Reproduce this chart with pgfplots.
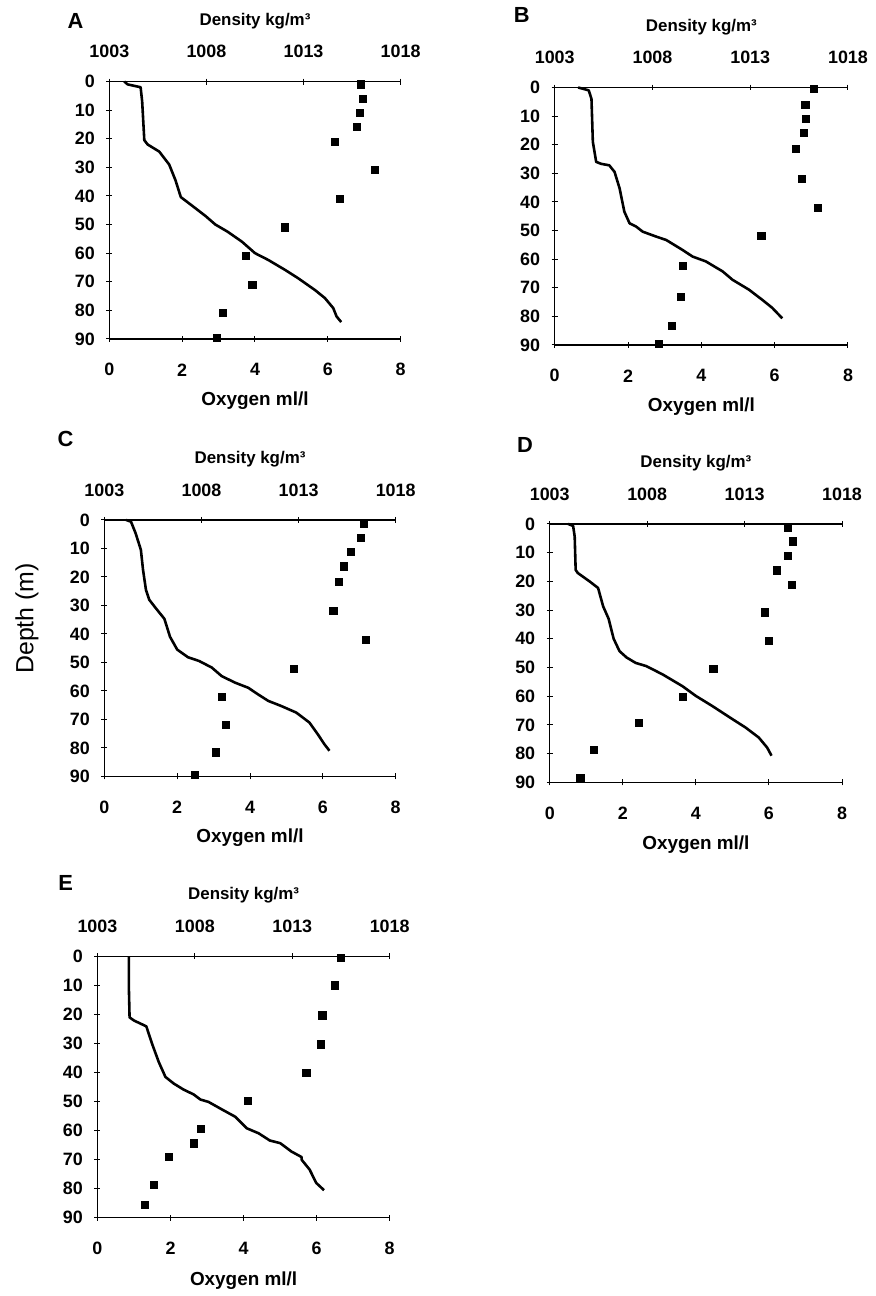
\documentclass[border=0pt]{standalone}
\usepackage{fontspec}
\setmainfont{Liberation Sans}
\usepackage{pgfplots}
\pgfplotsset{compat=1.18}

\pgfplotsset{
  panel/.style={
    scale only axis, clip=false,
    ymin=0, ymax=90, y dir=reverse,
    tick align=center, major tick length=3pt,
    tick style={black, line width=0.5pt},
    /pgf/number format/assume math mode=true,
    /pgf/number format/1000 sep={},
    ticklabel style={font=\fontsize{9}{10}\selectfont\bfseries},
  },
  nolinearrows/.style={
    every outer x axis line/.append style={-, line width=0.6pt},
    every outer y axis line/.append style={-, line width=0.6pt},
    every inner x axis line/.append style={-, line width=0.6pt},
    every inner y axis line/.append style={-, line width=0.6pt},
  },
  oxy/.style={panel,
    xmin=0, xmax=8, xtick={0,2,4,6,8}, ytick={0,10,...,90},
    axis x line=bottom, axis y line=left, nolinearrows,
    xticklabel style={anchor=center, yshift=-14pt},
    yticklabel style={xshift=-2.3pt},
    xlabel={Oxygen ml/l},
    xlabel style={at={(axis description cs:0.5,-0.24)}, anchor=center,
      font=\fontsize{9.5}{11}\selectfont\bfseries},
    title style={anchor=center, font=\fontsize{11}{12}\selectfont\bfseries},
  },
  dens/.style={panel,
    xmin=1003, xmax=1018, xtick={1003,1008,1013,1018},
    axis x line=top, axis y line=none, nolinearrows,
    xticklabel style={anchor=center, yshift=13.5pt},
    xlabel={Density kg/m³},
    xlabel style={at={(axis description cs:0.5,1.235)}, anchor=center,
      font=\fontsize{8.5}{10}\selectfont\bfseries},
  },
  sq/.style={only marks, mark=square*, mark size=1.8pt, black},
  dl/.style={no marks, black, line width=1.3pt, line join=round},
}

\begin{document}
\begin{tikzpicture}
\path (0,0) rectangle (440.5pt,-648pt);

% ---- A ----
\begin{axis}[oxy, at={(55pt,-41pt)}, anchor=north west, width=146.5pt, height=129.5pt,
  title={A}, title style={at={(axis description cs:-0.116,1.19)}}]
\addplot[sq] coordinates {(6.90,1) (6.97,6) (6.89,11) (6.80,16) (6.19,21) (7.29,31)
  (6.33,41) (4.83,51) (3.75,61) (3.93,71) (3.13,81) (2.96,89.6)};
\end{axis}
\begin{axis}[dens, at={(55pt,-41pt)}, anchor=north west, width=146.5pt, height=129.5pt]
\addplot[dl] coordinates {(1003.77,0) (1003.94,1) (1004.61,2) (1004.69,7) (1004.80,20.5)
  (1004.97,22) (1005.57,24.5) (1006.08,29) (1006.41,34.6) (1006.68,40.4) (1007.28,43.5)
  (1007.95,47) (1008.46,50) (1009.09,52.5) (1009.83,56) (1010.50,60) (1011.19,62.4)
  (1012.06,65.9) (1012.73,68.8) (1013.59,72.9) (1014.10,75.7) (1014.53,79.2)
  (1014.70,82.1) (1014.94,84.1)};
\end{axis}

% ---- B ----
\begin{axis}[oxy, at={(279pt,-44pt)}, anchor=north west, width=147.5pt, height=129.5pt,
  title={B}, title style={at={(axis description cs:-0.112,1.235)}}]
\addplot[sq] coordinates {(7.07,0.5) (6.84,6) (6.86,11) (6.79,16) (6.57,21.5) (6.75,32)
  (7.17,42) (5.64,52) (3.49,62.5) (3.44,73.3) (3.19,83.4) (2.85,89.5)};
\end{axis}
\begin{axis}[dens, at={(279pt,-44pt)}, anchor=north west, width=147.5pt, height=129.5pt]
\addplot[dl] coordinates {(1004.20,0) (1004.74,1) (1004.88,4) (1004.95,19) (1005.12,26)
  (1005.38,26.7) (1005.79,27.2) (1006.06,29.5) (1006.32,35.3) (1006.56,43.4)
  (1006.83,47.5) (1007.16,48.6) (1007.50,50.4) (1008.18,52.1) (1008.70,53.3)
  (1009.54,56.8) (1010.05,59.1) (1010.73,60.8) (1011.59,64.3) (1012.09,67.2)
  (1012.94,70.7) (1013.61,74.2) (1014.12,77) (1014.64,80.7)};
\end{axis}

% ---- C ----
\begin{axis}[oxy, at={(52.5pt,-261.5pt)}, anchor=north west, width=146.5pt, height=129pt,
  title={C}, title style={at={(axis description cs:-0.133,1.271)}},
  ylabel={Depth (m)},
  ylabel style={at={(axis description cs:-0.266,0.616)}, anchor=center, rotate=0,
    font=\fontsize{12.5}{14}\selectfont}]
\addplot[sq] coordinates {(7.13,1.2) (7.04,6.2) (6.78,11.3) (6.59,16.3) (6.45,21.6)
  (6.29,31.8) (7.18,42.2) (5.20,52.2) (3.22,62) (3.33,71.8) (3.06,81.6) (2.48,89.6)};
\end{axis}
\begin{axis}[dens, at={(52.5pt,-261.5pt)}, anchor=north west, width=146.5pt, height=129pt]
\addplot[dl] coordinates {(1004.11,0) (1004.37,0.6) (1004.61,4.7) (1004.88,10.5)
  (1004.99,17.5) (1005.14,24.5) (1005.31,28) (1005.64,30.9) (1006.09,34.7)
  (1006.38,41) (1006.75,45.5) (1007.31,48.2) (1007.88,49.5) (1008.53,51.8)
  (1009.04,54.8) (1009.73,57.1) (1010.41,58.9) (1010.91,61.2) (1011.44,63.5)
  (1012.11,65.3) (1012.88,67.6) (1013.56,71.1) (1013.99,75.2) (1014.33,78.7)
  (1014.59,81)};
\end{axis}

% ---- D ----
\begin{axis}[oxy, at={(276.5pt,-263.5pt)}, anchor=north west, width=147pt, height=130pt,
  title={D}, title style={at={(axis description cs:-0.085,1.258)}}]
\addplot[sq] coordinates {(6.52,1.2) (6.65,6.1) (6.52,11.1) (6.22,16.2) (6.63,21.2)
  (5.90,30.8) (5.99,40.6) (4.48,50.4) (3.65,60.2) (2.43,69.2) (1.20,78.7) (0.84,88.5)};
\end{axis}
\begin{axis}[dens, at={(276.5pt,-263.5pt)}, anchor=north west, width=147pt, height=130pt]
\addplot[dl] coordinates {(1003.94,0) (1004.20,0.7) (1004.28,4.4) (1004.33,16)
  (1004.44,17.1) (1005.04,20) (1005.48,22.3) (1005.74,28.7) (1006.02,33) (1006.28,40)
  (1006.58,44.3) (1006.94,46.5) (1007.41,48.4) (1007.95,49.5) (1008.79,52.4)
  (1009.81,56.5) (1010.50,59.9) (1011.34,63.4) (1012.38,68) (1013.05,70.9)
  (1013.73,74.4) (1014.16,77.9) (1014.38,80.7)};
\end{axis}

% ---- E ----
\begin{axis}[oxy, at={(49pt,-481pt)}, anchor=north west, width=147pt, height=131.5pt,
  title={E}, title style={at={(axis description cs:-0.109,1.236)}}]
\addplot[sq] coordinates {(6.66,0.5) (6.50,10) (6.16,20.3) (6.11,30.3) (5.72,40.2)
  (4.11,49.9) (2.83,59.5) (2.63,64.4) (1.95,69) (1.54,78.7) (1.30,85.5)};
\end{axis}
\begin{axis}[dens, at={(49pt,-481pt)}, anchor=north west, width=147pt, height=131.5pt]
\addplot[dl] coordinates {(1004.61,0) (1004.61,9.7) (1004.65,21) (1004.88,22.1)
  (1005.51,24.1) (1005.81,30.2) (1006.15,36.4) (1006.49,41.5) (1006.92,43.8)
  (1007.43,45.9) (1007.93,47.5) (1008.29,49.3) (1008.70,50.1) (1009.39,52.7)
  (1010.07,55.2) (1010.67,59.2) (1011.27,60.9) (1011.85,63.4) (1012.38,64.3)
  (1012.96,67.2) (1013.48,69.1) (1013.48,70) (1013.89,73.4) (1014.23,78)
  (1014.63,80.5)};
\end{axis}
\end{tikzpicture}
\end{document}
